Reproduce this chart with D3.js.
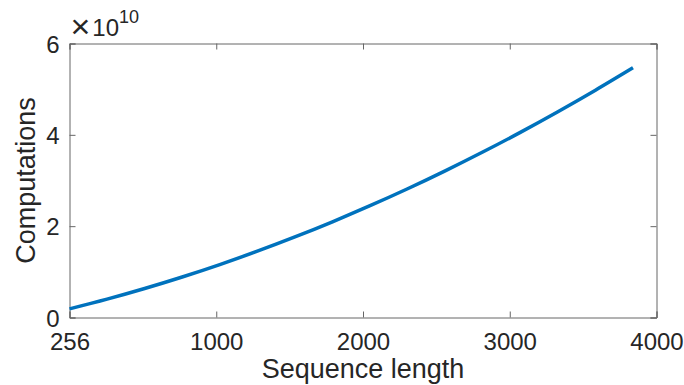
<!DOCTYPE html>
<html>
<head>
<meta charset="utf-8">
<script src="https://cdn.jsdelivr.net/npm/d3@7"></script>
<style>
  body { margin: 0; background: #fff; }
  text { font-family: "Liberation Sans", Arial, sans-serif; fill: #262626; }
</style>
</head>
<body>
<div id="chart"></div>
<script>
// x position along the axis (first tick is labelled 256)
const xValues = [0, 256, 512, 768, 1024, 1280, 1536, 1792, 2048, 2304, 2560, 2816, 3072, 3328, 3584, 3840];
// computations
const computations = [1.9e9, 4.02e9, 6.35e9, 8.87e9, 1.159e10, 1.452e10, 1.764e10, 2.096e10, 2.448e10,
  2.819e10, 3.211e10, 3.623e10, 4.054e10, 4.506e10, 4.977e10, 5.468e10];
const xTickValues = [0, 1000, 2000, 3000, 4000];
const xTickLabels = ["256", "1000", "2000", "3000", "4000"];
const yTickValues = [0, 2e10, 4e10, 6e10];

let width = 684,
  height = 385;
let margin = { left: 69.5, right: 27.5, top: 43.5, bottom: 67.5 };
let innerW = width - margin.left - margin.right,
  innerH = height - margin.top - margin.bottom;

let svg = d3
  .select("#chart")
  .append("svg")
  .attr("width", width)
  .attr("height", height);

let g = svg.append("g").attr("transform", `translate(${margin.left},${margin.top})`);

let x = d3.scaleLinear().domain([0, 4000]).range([0, innerW]);
let y = d3.scaleLinear().domain([0, 6e10]).range([innerH, 0]);

const axisColor = "#666";

// bottom axis with labels
let xAxis = g
  .append("g")
  .attr("transform", `translate(0,${innerH})`)
  .call(
    d3.axisBottom(x)
      .tickValues(xTickValues)
      .tickSize(-6)
      .tickPadding(15)
      .tickFormat((d, i) => xTickLabels[i])
  );
// top axis, ticks only
let xTop = g.append("g").call(d3.axisTop(x).tickValues(xTickValues).tickSize(-6).tickFormat(""));
// left axis with labels
let yAxis = g.append("g").call(
  d3.axisLeft(y)
    .tickValues(yTickValues)
    .tickSize(-6)
    .tickPadding(10)
    .tickFormat((d) => d / 1e10)
);
// right axis, ticks only
let yRight = g
  .append("g")
  .attr("transform", `translate(${innerW},0)`)
  .call(d3.axisRight(y).tickValues(yTickValues).tickSize(-6).tickFormat(""));

[xAxis, xTop, yAxis, yRight].forEach((a) => {
  a.select(".domain").attr("stroke", axisColor).attr("stroke-width", 1);
  a.selectAll(".tick line").attr("stroke", axisColor);
  a.selectAll(".tick text").style("font-size", "24px").attr("fill", "#262626");
});
xAxis.selectAll(".tick text").attr("dy", "0.72em");
yAxis.selectAll(".tick text").attr("dy", "0.36em");

// data line
let line = d3
  .line()
  .x((d, i) => x(xValues[i]))
  .y((d) => y(d))
  .curve(d3.curveMonotoneX);

g.append("path")
  .datum(computations)
  .attr("fill", "none")
  .attr("stroke", "#0072BD")
  .attr("stroke-width", 3.5)
  .attr("d", line);

// exponent label
let expo = svg
  .append("text")
  .attr("x", margin.left + 1)
  .attr("y", 36)
  .style("font-size", "24px");
expo.append("tspan").style("font-size", "34px").attr("dy", 2).text("\u00d7");
expo.append("tspan").attr("dy", -2).attr("dx", 2).text("10");
expo.append("tspan").attr("dy", -13).style("font-size", "18px").text("10");

// axis titles
svg
  .append("text")
  .attr("x", margin.left + innerW / 2)
  .attr("y", 378)
  .attr("text-anchor", "middle")
  .style("font-size", "27px")
  .text("Sequence length");

svg
  .append("text")
  .attr("transform", `translate(35,${margin.top + innerH / 2}) rotate(-90)`)
  .attr("text-anchor", "middle")
  .style("font-size", "27px")
  .text("Computations");
</script>
</body>
</html>
